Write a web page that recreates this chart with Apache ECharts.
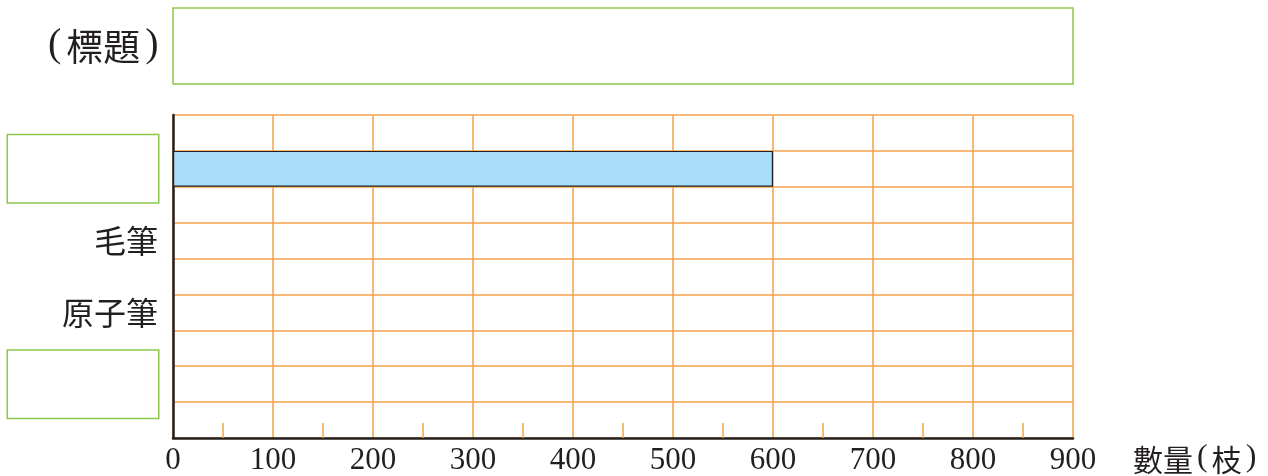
<!DOCTYPE html>
<html>
<head>
<meta charset="utf-8">
<script src="https://cdn.jsdelivr.net/npm/echarts@6/dist/echarts.min.js"></script>
<style>
html,body{margin:0;padding:0;background:#fff;}
#chart{width:1268px;height:476px;}
</style>
</head>
<body>
<div id="chart"></div>
<script>
// ---- data ----
const categories = ['', '', '', '毛筆', '', '原子筆', '', '', ''];
const answerBoxRows = [false, true, false, false, false, false, false, true, false];
const barValues = [null, 600, null, null, null, null, null, null, null];
const xTicks = [0, 100, 200, 300, 400, 500, 600, 700, 800, 900];
const titleText = '(標題)';
const xAxisName = '數量(枝)';

const ORANGE = '#f4a24a';
const GREEN = '#8cc84b';
const INK = '#231f20';
const BLUE = '#a9def8';
const CJK = '"Noto Sans CJK TC", "Noto Sans CJK SC", sans-serif';
const SERIF = '"Liberation Serif", "DejaVu Serif", serif';

// wrap parentheses in a serif rich style, CJK chars in CJK style
function richParen(s) {
  return s.replace(/\(/g, '{p|(}').replace(/\)/g, '{p|)}')
          .replace(/([^{}|()p]+)(?=\{|$)/g, '{c|$1}');
}

const chart = echarts.init(document.getElementById('chart'));
const gridL = 173, gridT = 115, gridR = 195, gridB = 36;

chart.setOption({
  animation: false,
  backgroundColor: '#fff',
  title: {
    text: richParen(titleText),
    left: 38, top: 20,
    textStyle: {
      fontFamily: CJK, fontSize: 37, fontWeight: 'normal', color: INK,
      rich: {
        c: { fontFamily: CJK, fontSize: 37, color: INK },
        p: { fontFamily: SERIF, fontSize: 40, color: INK, padding: [0, 5, 4, 5] }
      }
    }
  },
  graphic: [{
    type: 'rect',
    shape: { x: gridL, y: 8, width: 1268 - gridL - gridR, height: 76 },
    style: { fill: 'none', stroke: GREEN, lineWidth: 1.5 }
  }],
  grid: { left: gridL, right: gridR, top: gridT, bottom: gridB, containLabel: false },
  xAxis: {
    type: 'value',
    min: xTicks[0], max: xTicks[xTicks.length - 1], interval: 100,
    name: richParen(xAxisName),
    nameLocation: 'end',
    nameGap: 60,
    nameTextStyle: {
      fontFamily: CJK, fontSize: 30, color: INK, verticalAlign: 'top', padding: [4, 0, 0, 0],
      rich: {
        c: { fontFamily: CJK, fontSize: 30, color: INK },
        p: { fontFamily: SERIF, fontSize: 32, color: INK, padding: [0, 4, 3, 4] }
      }
    },
    axisLine: { show: true, lineStyle: { color: INK, width: 2.5 } },
    axisTick: { show: false, inside: true },
    minorTick: { show: true, splitNumber: 2, length: 15, lineStyle: { color: ORANGE, width: 1.5 } },
    splitLine: { show: true, lineStyle: { color: ORANGE, width: 1.5 } },
    minorSplitLine: { show: false },
    axisLabel: { margin: 7, fontFamily: SERIF, fontSize: 31, color: INK }
  },
  yAxis: {
    type: 'category',
    inverse: true,
    data: categories,
    boundaryGap: true,
    axisLine: { show: true, lineStyle: { color: INK, width: 2.5 } },
    axisTick: { show: false },
    splitLine: { show: true, lineStyle: { color: ORANGE, width: 1.5 } },
    axisLabel: {
      interval: 0,
      margin: 15,
      fontFamily: CJK, fontSize: 32, color: INK,
      formatter: function (v, i) {
        return answerBoxRows[i] ? '{box|}' : v;
      },
      rich: {
        box: { width: 150, height: 67, borderColor: GREEN, borderWidth: 1.5, backgroundColor: '#fff' }
      }
    }
  },
  series: [{
    type: 'bar',
    data: barValues,
    barWidth: '100%',
    itemStyle: { color: BLUE, borderColor: INK, borderWidth: 1.2 },
    z: 3
  }]
});
</script>
</body>
</html>
